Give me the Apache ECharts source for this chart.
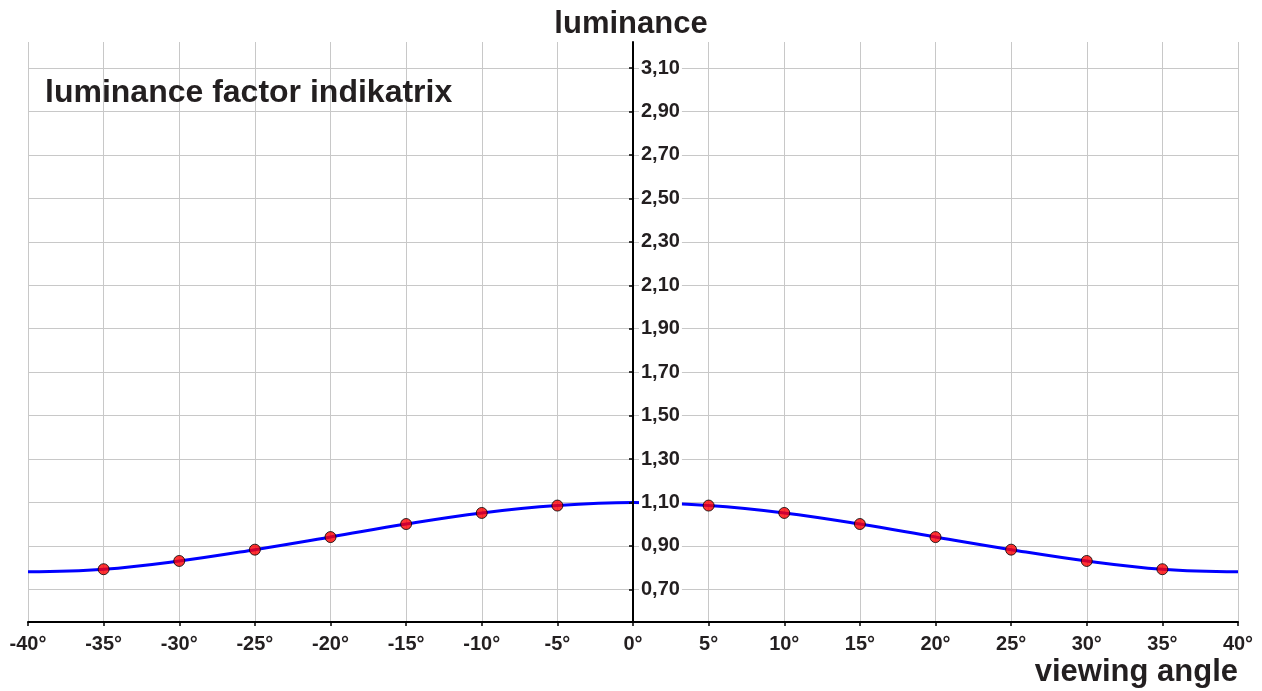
<!DOCTYPE html>
<html>
<head>
<meta charset="utf-8">
<title>luminance factor indikatrix</title>
<script src="https://cdn.jsdelivr.net/npm/echarts@6/dist/echarts.min.js"></script>
<style>
  html, body { margin: 0; padding: 0; background: #fff; }
  #chart { width: 1262px; height: 691px; }
</style>
</head>
<body>
<div id="chart"></div>
<script>
// viewing angle (deg) and measured luminance factor
const angles = [-40, -35, -30, -25, -20, -15, -10, -5, 0, 5, 10, 15, 20, 25, 30, 35, 40];
const luminance = [0.781, 0.793, 0.831, 0.883, 0.941, 1.001, 1.052, 1.086, 1.1,
  1.086, 1.052, 1.001, 0.941, 0.883, 0.831, 0.793, 0.781];
// angles that carry a measured point marker
const markedAngles = [-35, -30, -25, -20, -15, -10, -5, 5, 10, 15, 20, 25, 30, 35];
// y tick labels
const yTicks = [0.7, 0.9, 1.1, 1.3, 1.5, 1.7, 1.9, 2.1, 2.3, 2.5, 2.7, 2.9, 3.1];

const textColor = "#231f20";
const fontFamily = "'Liberation Sans', Arial, sans-serif";
const yMin = 0.55;
const yMax = 3.22;
const gridLeft = 28;
const gridRight = 24;
const gridWidth = 1262 - gridLeft - gridRight;

const lineData = angles.map((a, i) => [a, luminance[i]]);
const pointData = markedAngles.map((a) => [a, luminance[angles.indexOf(a)]]);

const chart = echarts.init(document.getElementById("chart"), null, { renderer: "canvas" });

const option = {
  backgroundColor: "#fff",
  animation: false,
  title: [
    {
      text: "luminance factor indikatrix",
      left: 45,
      top: 77,
      padding: 0,
      textStyle: { fontSize: 32, fontWeight: "bold", color: textColor, fontFamily: fontFamily },
    },
    {
      text: "luminance",
      left: "center",
      top: 9,
      padding: 0,
      textStyle: { fontSize: 31, fontWeight: "bold", color: textColor, fontFamily: fontFamily },
    },
    {
      text: "viewing angle",
      right: 24,
      top: 657,
      padding: 0,
      textStyle: { fontSize: 31, fontWeight: "bold", color: textColor, fontFamily: fontFamily },
    },
  ],
  grid: {
    left: gridLeft,
    right: gridRight,
    top: 42,
    bottom: 69,
    containLabel: false,
  },
  xAxis: {
    type: "value",
    min: -40,
    max: 40,
    interval: 5,
    axisLine: { show: true, onZero: false, lineStyle: { color: "#000", width: 2 } },
    axisTick: { show: true, length: 4, lineStyle: { color: "#000", width: 1.5 } },
    axisLabel: {
      margin: 12,
      fontSize: 20,
      fontWeight: "bold",
      color: textColor,
      fontFamily: fontFamily,
      formatter: (v) => v + "°",
    },
    splitLine: { show: true, lineStyle: { color: "#c8c8c8", width: 1 } },
  },
  yAxis: [
    {
      // grid lines only, kept under the curve
      type: "value",
      min: yMin,
      max: yMax,
      axisLine: { show: false },
      axisTick: { show: false, customValues: yTicks },
      axisLabel: { show: false, customValues: yTicks },
      splitLine: { show: true, lineStyle: { color: "#c8c8c8", width: 1 } },
      z: 0,
    },
    {
      // axis line and labels at 0°, drawn above the curve
      type: "value",
      position: "left",
      offset: -gridWidth / 2,
      min: yMin,
      max: yMax,
      axisLine: { show: true, onZero: false, lineStyle: { color: "#000", width: 2 } },
      axisTick: { show: true, length: 4, customValues: yTicks, lineStyle: { color: "#000", width: 1.5 } },
      axisLabel: {
        inside: true,
        margin: 6,
        customValues: yTicks,
        fontSize: 20,
        fontWeight: "bold",
        color: textColor,
        fontFamily: fontFamily,
        backgroundColor: "#fff",
        padding: [1, 2],
        formatter: (v) => v.toFixed(2).replace(".", ","),
      },
      splitLine: { show: false },
      z: 10,
    },
  ],
  series: [
    {
      type: "line",
      data: lineData,
      smooth: 0.4,
      showSymbol: false,
      lineStyle: { color: "#0000ff", width: 3 },
      z: 2,
    },
    {
      type: "scatter",
      data: pointData,
      symbolSize: 11,
      itemStyle: { color: "#ff0000", borderColor: "#000", borderWidth: 1 },
      z: 3,
    },
  ],
};

chart.setOption(option);
</script>
</body>
</html>
